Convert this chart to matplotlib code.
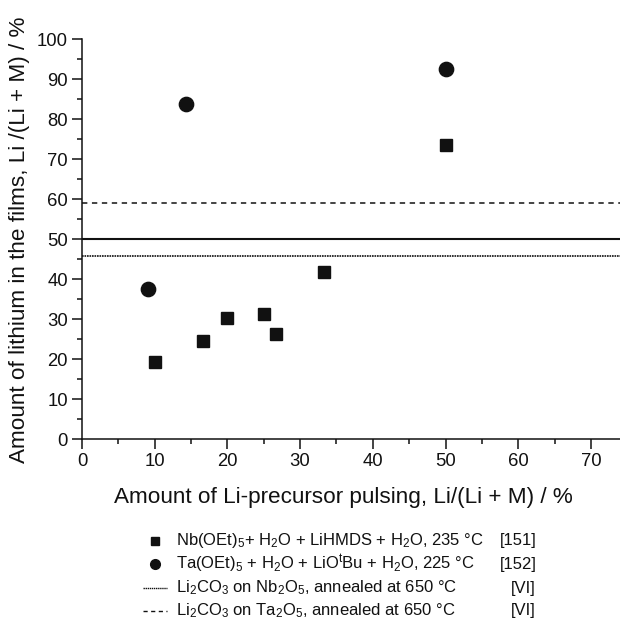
import matplotlib
matplotlib.use('Agg')
import matplotlib.pyplot as plt
from matplotlib.ticker import MultipleLocator
from matplotlib.lines import Line2D

plt.rcParams['font.family'] = ['Liberation Sans', 'DejaVu Sans']
plt.rcParams['mathtext.fontset'] = 'custom'
plt.rcParams['mathtext.rm'] = 'Liberation Sans'
plt.rcParams['mathtext.it'] = 'Liberation Sans'

# Nb(OEt)5 + LiHMDS series [151]
nb_x = [10, 16.7, 20, 25, 26.7, 33.3, 50]
nb_y = [19.2, 24.4, 30.3, 31.3, 26.2, 41.7, 73.5]
# Ta(OEt)5 + LiOtBu series [152]
ta_x = [9.1, 14.3, 50]
ta_y = [37.6, 83.7, 92.4]
# reference levels
ref_stoich = 50.0
ref_nb_anneal = 45.7
ref_ta_anneal = 58.9

legend_labels = [
    r'Nb(OEt)$_5$+ H$_2$O + LiHMDS + H$_2$O, 235 °C',
    r'Ta(OEt)$_5$ + H$_2$O + LiO$^t$Bu + H$_2$O, 225 °C',
    r'Li$_2$CO$_3$ on Nb$_2$O$_5$, annealed at 650 °C',
    r'Li$_2$CO$_3$ on Ta$_2$O$_5$, annealed at 650 °C',
]
legend_refs = ['[151]', '[152]', '[VI]', '[VI]']

W, H = 620, 621
fig = plt.figure(figsize=(6.2, 6.21), dpi=100)
ax = fig.add_axes([82 / W, 1 - 439 / H, 538 / W, 400 / H])

ax.axhline(ref_stoich, color='#111111', lw=1.5)
ax.axhline(ref_nb_anneal, color='#111111', lw=1.2, ls=(0, (1, 0.5)))
ax.axhline(ref_ta_anneal, color='#111111', lw=1.1, ls=(0, (3.5, 3)))

ax.plot(nb_x, nb_y, 's', color='#111111', ms=8.6, ls='none', zorder=3)
ax.plot(ta_x, ta_y, 'o', color='#111111', ms=10.3, ls='none', zorder=3)

ax.set_xlim(0, 74)
ax.set_ylim(0, 100)
ax.xaxis.set_major_locator(MultipleLocator(10))
ax.xaxis.set_minor_locator(MultipleLocator(5))
ax.yaxis.set_major_locator(MultipleLocator(10))
ax.yaxis.set_minor_locator(MultipleLocator(5))
ax.spines['top'].set_visible(False)
ax.spines['right'].set_visible(False)
for s in ('left', 'bottom'):
    ax.spines[s].set_linewidth(1.1)
    ax.spines[s].set_color('#111111')
ax.tick_params(which='major', direction='out', length=7, width=1.1,
               labelsize=13.3, pad=3, colors='#111111')
ax.tick_params(which='minor', direction='out', length=3.6, width=1.1, colors='#111111')

ax.set_xlabel('Amount of Li-precursor pulsing, Li/(Li + M) / %', fontsize=16.2,
              va='center', color='#111111')
ax.xaxis.set_label_coords(0.5 + (343.5 - 351) / 538, -(497 - 439) / 400)
ax.set_ylabel('Amount of lithium in the films, Li /(Li + M) / %', fontsize=16.2,
              va='center', color='#111111')
ax.yaxis.set_label_coords((20 - 82) / 538, (439 - 240) / 400)

# legend drawn manually below the axes
rows_y = [541, 564, 588, 611]
handles = [('s', None), ('o', None), (None, (0, (1, 0.5))), (None, (0, (3, 2.5)))]
for yy, (mk, ls), lab, ref in zip(rows_y, handles, legend_labels, legend_refs):
    fy = 1 - yy / H
    if mk is not None:
        fig.lines.append(Line2D([155 / W], [fy], marker=mk, color='#111111',
                                ms=6 if mk == 's' else 7, ls='none',
                                transform=fig.transFigure))
    else:
        fig.lines.append(Line2D([143 / W, 167 / W], [fy, fy], color='#111111',
                                lw=1.0, ls=ls, transform=fig.transFigure))
    fig.text(176 / W, fy, lab, fontsize=12, va='center', ha='left', color='#111111')
    fig.text((500 if ref.startswith('[1') else 511) / W, fy, ref,
             fontsize=12, va='center', ha='left', color='#111111')

fig.savefig('out.png', dpi=100, facecolor='white')
